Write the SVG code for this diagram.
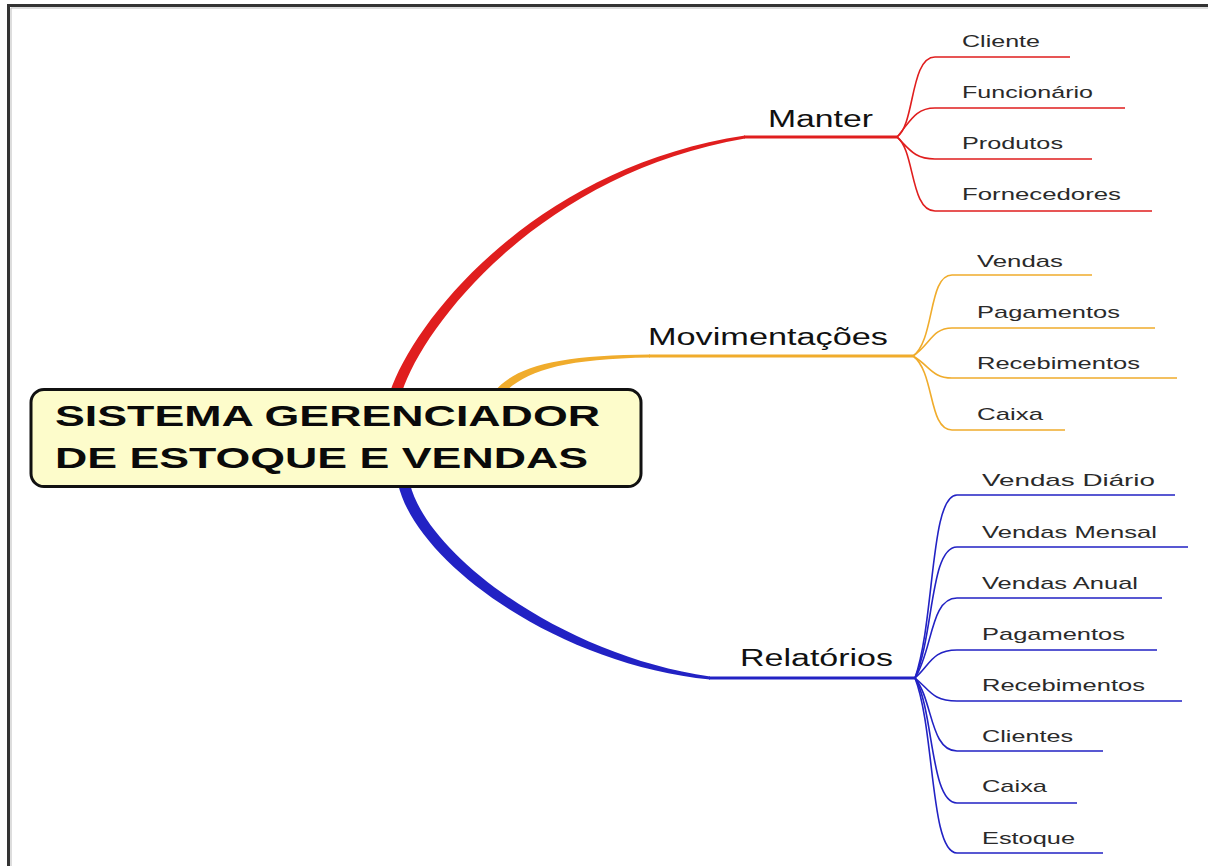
<svg xmlns="http://www.w3.org/2000/svg" width="1208" height="866" viewBox="0 0 1208 866">
<style>
.lbl{font-family:"Liberation Sans",Arial,sans-serif;font-size:17px;fill:#2a2a2a;}
.br{font-family:"Liberation Sans",Arial,sans-serif;font-size:23px;fill:#111;}
.root{font-family:"Liberation Sans",Arial,sans-serif;font-size:30px;font-weight:bold;fill:#0a0a0a;}
.red{stroke:#e01e1e;fill:none;}
.org{stroke:#f0ac2c;fill:none;}
.blu{stroke:#2222c4;fill:none;}
.thin{stroke-width:1.6;}
.mid{stroke-width:3;}
</style>
<rect x="0" y="0" width="1208" height="866" fill="#ffffff"/>
<g id="frame">
<path d="M8.5 866 L8.5 5.5 L1208 5.5" fill="none" stroke="#333" stroke-width="3"/>
<path d="M11 866 L11 8 L1208 8" fill="none" stroke="#bbb" stroke-width="1"/>
</g>
<g id="connectors">
<!-- root to Manter -->
<path d="M390 392 C415 318 537 167 745 135.5 L745 138.5 C543 173 425 322 402 392 Z" fill="#e01e1e"/>
<path class="red mid" d="M744 137 L897 137"/>
<!-- root to Movimentações -->
<path d="M494 392 C515 366 560 355 650 354.5 L650 357.5 C565 359 528 370 505 392 Z" fill="#f0ac2c"/>
<path class="org mid" d="M649 356 L913 356"/>
<!-- root to Relatórios -->
<path d="M398 484 C416 562 556 664 710 679.5 L710 676.5 C564 656 428 556 410 484 Z" fill="#2222c4"/>
<path class="blu mid" d="M709 678 L915 678"/>
<!-- Manter children -->
<path class="red thin" d="M897 137 C915 125 910 57 935 57 L1070 57"/>
<path class="red thin" d="M897 137 C910 122 915 108 935 108 L1125 108"/>
<path class="red thin" d="M897 137 C910 150 915 159 935 159 L1092 159"/>
<path class="red thin" d="M897 137 C915 150 910 211 935 211 L1152 211"/>
<!-- Movimentações children -->
<path class="org thin" d="M913 356 C935 340 928 275 952 275 L1092 275"/>
<path class="org thin" d="M913 356 C930 345 932 328 952 328 L1155 328"/>
<path class="org thin" d="M913 356 C930 366 932 378 952 378 L1177 378"/>
<path class="org thin" d="M913 356 C935 372 928 430 952 430 L1065 430"/>
<!-- Relatórios children -->
<path class="blu thin" d="M915 678 C935 620 930 495 957 495 L1175 495"/>
<path class="blu thin" d="M915 678 C934 635 930 547 957 547 L1188 547"/>
<path class="blu thin" d="M915 678 C933 650 930 598 957 598 L1162 598"/>
<path class="blu thin" d="M915 678 C930 665 932 650 957 650 L1157 650"/>
<path class="blu thin" d="M915 678 C930 690 932 701 957 701 L1182 701"/>
<path class="blu thin" d="M915 678 C933 700 930 751 957 751 L1103 751"/>
<path class="blu thin" d="M915 678 C934 710 930 803 957 803 L1077 803"/>
<path class="blu thin" d="M915 678 C935 730 930 853 957 853 L1103 853"/>
</g>
<g id="root">
<rect x="31" y="389.5" width="610" height="97" rx="13" ry="13" fill="#fdfccb" stroke="#111" stroke-width="3"/>
<text class="root" x="55" y="426" textLength="545" lengthAdjust="spacingAndGlyphs">SISTEMA GERENCIADOR</text>
<text class="root" x="55" y="468" textLength="533" lengthAdjust="spacingAndGlyphs">DE ESTOQUE E VENDAS</text>
</g>
<g id="manter">
<text class="br" x="768" y="127" textLength="105" lengthAdjust="spacingAndGlyphs">Manter</text>
</g>
<g id="manter-cliente"><text class="lbl" x="962" y="47" textLength="78" lengthAdjust="spacingAndGlyphs">Cliente</text></g>
<g id="manter-funcionario"><text class="lbl" x="962" y="98" textLength="131" lengthAdjust="spacingAndGlyphs">Funcionário</text></g>
<g id="manter-produtos"><text class="lbl" x="962" y="149" textLength="101" lengthAdjust="spacingAndGlyphs">Produtos</text></g>
<g id="manter-fornecedores"><text class="lbl" x="962" y="200" textLength="159" lengthAdjust="spacingAndGlyphs">Fornecedores</text></g>
<g id="movimentacoes">
<text class="br" x="648" y="345" textLength="240" lengthAdjust="spacingAndGlyphs">Movimentações</text>
</g>
<g id="mov-vendas"><text class="lbl" x="977" y="267" textLength="86" lengthAdjust="spacingAndGlyphs">Vendas</text></g>
<g id="mov-pagamentos"><text class="lbl" x="977" y="318" textLength="143" lengthAdjust="spacingAndGlyphs">Pagamentos</text></g>
<g id="mov-recebimentos"><text class="lbl" x="977" y="369" textLength="163" lengthAdjust="spacingAndGlyphs">Recebimentos</text></g>
<g id="mov-caixa"><text class="lbl" x="977" y="420" textLength="66" lengthAdjust="spacingAndGlyphs">Caixa</text></g>
<g id="relatorios">
<text class="br" x="740" y="666" textLength="153" lengthAdjust="spacingAndGlyphs">Relatórios</text>
</g>
<g id="rel-vendas-diario"><text class="lbl" x="982" y="486" textLength="173" lengthAdjust="spacingAndGlyphs">Vendas Diário</text></g>
<g id="rel-vendas-mensal"><text class="lbl" x="982" y="538" textLength="175" lengthAdjust="spacingAndGlyphs">Vendas Mensal</text></g>
<g id="rel-vendas-anual"><text class="lbl" x="982" y="589" textLength="156" lengthAdjust="spacingAndGlyphs">Vendas Anual</text></g>
<g id="rel-pagamentos"><text class="lbl" x="982" y="640" textLength="143" lengthAdjust="spacingAndGlyphs">Pagamentos</text></g>
<g id="rel-recebimentos"><text class="lbl" x="982" y="691" textLength="163" lengthAdjust="spacingAndGlyphs">Recebimentos</text></g>
<g id="rel-clientes"><text class="lbl" x="982" y="742" textLength="91" lengthAdjust="spacingAndGlyphs">Clientes</text></g>
<g id="rel-caixa"><text class="lbl" x="982" y="792" textLength="65" lengthAdjust="spacingAndGlyphs">Caixa</text></g>
<g id="rel-estoque"><text class="lbl" x="982" y="844" textLength="93" lengthAdjust="spacingAndGlyphs">Estoque</text></g>
</svg>
